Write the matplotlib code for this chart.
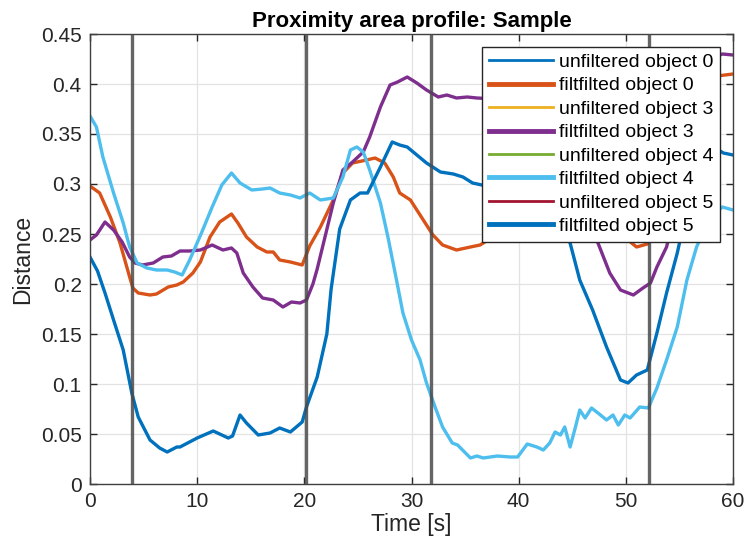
import numpy as np
import matplotlib
matplotlib.use("Agg")
import matplotlib.pyplot as plt

plt.rcParams['font.family'] = ['Liberation Sans', 'DejaVu Sans']

# ---------------- data ----------------
t_obj0 = [0, 0.9, 1.9, 2.8, 3.7, 4.0, 4.5, 5.6, 6.2, 7.3, 8.1, 8.7, 9.6, 10.3, 11.2, 12.1, 13.2, 13.8,
          14.6, 15.6, 16.5, 17.1, 17.7, 18.7, 19.8, 20.5, 21.5, 22.7, 23.6, 24.5, 25.8, 26.6, 27.5,
          28.3, 28.9, 29.9, 31.1, 32.0, 32.9, 34.2, 35.5, 36.4, 38, 41, 44, 47, 49.5, 51, 52, 53,
          54.5, 56, 57.5, 58.5, 60]
y_obj0 = [0.298, 0.291, 0.267, 0.241, 0.207, 0.196, 0.191, 0.189, 0.190, 0.197, 0.199, 0.202, 0.211,
          0.222, 0.247, 0.262, 0.270, 0.261, 0.247, 0.237, 0.232, 0.232, 0.224, 0.222, 0.219, 0.238,
          0.257, 0.284, 0.311, 0.321, 0.324, 0.326, 0.321, 0.307, 0.291, 0.284, 0.264, 0.249, 0.239,
          0.234, 0.237, 0.239, 0.250, 0.258, 0.262, 0.258, 0.250, 0.237, 0.240, 0.265, 0.310, 0.360,
          0.395, 0.408, 0.410]

t_obj3 = [0, 0.6, 1.4, 2.2, 3.0, 3.7, 4.2, 4.9, 5.9, 6.8, 7.6, 8.4, 9.3, 10.3, 11.4, 12.4, 13.2, 13.7,
          14.3, 15.2, 16.1, 17.1, 18.0, 18.8, 19.6, 20.2, 20.8, 21.2, 21.7, 22.7, 23.6, 24.5, 25.5,
          26.1, 27.1, 28.0, 28.7, 29.6, 30.5, 31.4, 32.5, 33.3, 34.2, 35.2, 36.1, 38, 40, 42, 44, 46,
          47.4, 48.5, 49.5, 50.7, 51.6, 52.3, 52.9, 53.8, 55, 56, 57, 58, 59, 60]
y_obj3 = [0.244, 0.249, 0.262, 0.254, 0.242, 0.227, 0.221, 0.219, 0.221, 0.227, 0.228, 0.233, 0.233,
          0.234, 0.239, 0.234, 0.236, 0.231, 0.211, 0.197, 0.186, 0.184, 0.177, 0.182, 0.181, 0.184,
          0.200, 0.215, 0.237, 0.281, 0.314, 0.322, 0.332, 0.347, 0.377, 0.399, 0.402, 0.407, 0.401,
          0.394, 0.387, 0.389, 0.386, 0.387, 0.386, 0.385, 0.375, 0.350, 0.310, 0.270, 0.241, 0.211,
          0.194, 0.189, 0.196, 0.201, 0.217, 0.237, 0.290, 0.350, 0.400, 0.425, 0.430, 0.429]

t_obj4 = [0, 0.6, 1.2, 2.2, 3.1, 3.7, 4.4, 5.3, 6.2, 7.2, 7.9, 8.6, 9.3, 10.4, 11.4, 12.3, 13.2, 14.0,
          15.1, 16.1, 16.8, 17.7, 18.7, 19.6, 20.5, 21.5, 22.7, 23.6, 24.3, 24.9, 25.5, 26.1, 27.1,
          27.8, 28.6, 29.2, 30.0, 30.8, 31.4, 32.2, 32.9, 33.8, 34.3, 35.5, 36.1, 36.7, 38.0, 39.2,
          39.9, 40.8, 41.7, 42.3, 42.9, 43.4, 43.9, 44.3, 44.8, 45.3, 45.7, 46.2, 46.8, 47.4, 48.2,
          48.8, 49.3, 49.9, 50.4, 51.3, 52.1, 52.9, 53.8, 54.8, 55.7, 56.6, 57.5, 58.3, 59.0, 60]
y_obj4 = [0.368, 0.357, 0.327, 0.291, 0.261, 0.237, 0.221, 0.216, 0.214, 0.214, 0.212, 0.209, 0.224,
          0.251, 0.277, 0.299, 0.311, 0.301, 0.294, 0.295, 0.296, 0.291, 0.289, 0.286, 0.291, 0.284,
          0.286, 0.307, 0.334, 0.337, 0.332, 0.314, 0.281, 0.247, 0.204, 0.171, 0.144, 0.124, 0.101,
          0.077, 0.057, 0.041, 0.039, 0.026, 0.028, 0.026, 0.028, 0.027, 0.027, 0.040, 0.037, 0.034,
          0.041, 0.052, 0.049, 0.057, 0.037, 0.057, 0.074, 0.066, 0.076, 0.071, 0.064, 0.069, 0.059,
          0.069, 0.066, 0.077, 0.076, 0.096, 0.124, 0.157, 0.204, 0.237, 0.258, 0.270, 0.277, 0.274]

t_obj5 = [0, 0.7, 1.4, 2.2, 3.1, 3.9, 4.5, 5.6, 6.5, 7.2, 8.1, 8.4, 10.0, 11.5, 12.9, 13.3, 14.0, 14.6,
          15.7, 16.8, 17.7, 18.7, 19.8, 20.2, 21.2, 22.1, 22.5, 23.3, 24.3, 25.2, 25.9, 27.1, 28.2,
          28.9, 29.6, 30.5, 31.4, 32.7, 33.9, 34.8, 35.7, 37, 39, 41, 43, 44.8, 45.7, 46.9, 48.2,
          49.5, 50.2, 51.0, 52.0, 52.9, 53.8, 54.8, 55.7, 56.6, 57.5, 58.5, 59.1, 60]
y_obj5 = [0.227, 0.213, 0.191, 0.164, 0.134, 0.091, 0.067, 0.044, 0.036, 0.032, 0.037, 0.037, 0.046,
          0.053, 0.046, 0.048, 0.069, 0.061, 0.049, 0.051, 0.056, 0.052, 0.062, 0.077, 0.107, 0.150,
          0.195, 0.255, 0.284, 0.291, 0.291, 0.317, 0.342, 0.339, 0.337, 0.329, 0.321, 0.312, 0.310,
          0.307, 0.301, 0.298, 0.295, 0.285, 0.268, 0.241, 0.204, 0.174, 0.137, 0.104, 0.101, 0.109,
          0.114, 0.151, 0.191, 0.231, 0.275, 0.310, 0.333, 0.335, 0.331, 0.329]

event_times = [3.92, 20.15, 31.8, 52.2]

labels = ["unfiltered object 0", "filtfilted object 0",
          "unfiltered object 3", "filtfilted object 3",
          "unfiltered object 4", "filtfilted object 4",
          "unfiltered object 5", "filtfilted object 5"]

# ---------------- plot ----------------
colors = ['#0072BD', '#D95319', '#EDB120', '#7E2F8E', '#77AC30', '#4DBEEE', '#A2142F', '#0072BD']
series = [(t_obj0, y_obj0), (t_obj3, y_obj3), (t_obj4, y_obj4), (t_obj5, y_obj5)]

fig = plt.figure(figsize=(7.44, 5.47), dpi=100)
ax = fig.add_axes([90/744, 1-484/547, 643/744, 450/547])

for i, (t, y) in enumerate(series):
    ax.plot(t, y, color=colors[2*i], lw=1.3, label=labels[2*i], zorder=2)
    ax.plot(t, y, color=colors[2*i+1], lw=2.4, label=labels[2*i+1], zorder=2,
            solid_joinstyle='round')

for xe in event_times:
    ax.axvline(xe, color='#4a4a4a', lw=2.4, alpha=0.85, zorder=3)

ax.set_xlim(0, 60)
ax.set_ylim(0, 0.45)
ax.set_xticks(np.arange(0, 61, 10))
ax.set_yticks(np.arange(0, 0.451, 0.05))
ax.set_yticklabels(['0', '0.05', '0.1', '0.15', '0.2', '0.25', '0.3', '0.35', '0.4', '0.45'])
ax.grid(True, color='#e3e3e3', lw=0.9)
ax.set_axisbelow(True)
ax.tick_params(direction='in', top=True, right=True, length=5, width=1, colors='#262626',
               labelsize=15, pad=6)
for s in ax.spines.values():
    s.set_color('#404040')
    s.set_linewidth(1.0)

ax.set_title("Proximity area profile: Sample", fontsize=16, fontweight='bold', pad=5)
ax.set_xlabel("Time [s]", fontsize=16.5, color='#262626', labelpad=1)
ax.set_ylabel("Distance", fontsize=16.5, color='#262626', labelpad=5)

leg = ax.legend(loc='upper right', fontsize=14, frameon=True, fancybox=False, framealpha=1,
                edgecolor='#262626', borderaxespad=0.65, labelspacing=0.3, handlelength=3.3,
                handletextpad=0.3, borderpad=0.35)
leg.get_frame().set_linewidth(1.0)
for lh, lw in zip(leg.get_lines(), [2, 3.5]*4):
    lh.set_linewidth(lw)

fig.savefig("out.png", dpi=100)
